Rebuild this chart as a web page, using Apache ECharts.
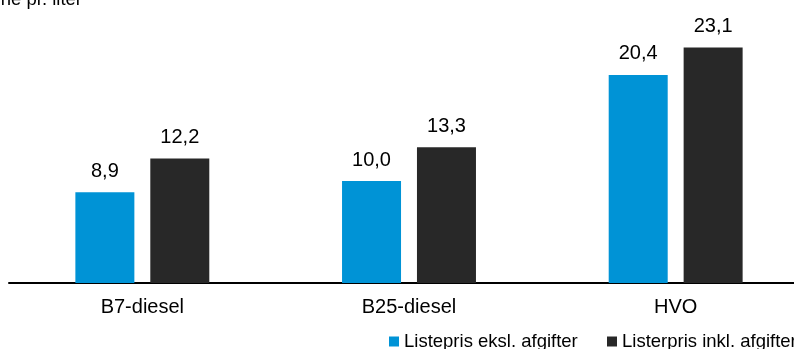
<!DOCTYPE html>
<html>
<head>
<meta charset="utf-8">
<script src="https://cdn.jsdelivr.net/npm/echarts@6/dist/echarts.min.js"></script>
<style>html,body{margin:0;padding:0;background:#fff;}#c{width:794px;height:349px;}</style>
</head>
<body>
<div id="c"></div>
<script>
const categories = ['B7-diesel', 'B25-diesel', 'HVO'];
const seriesNames = ['Listepris eksl. afgifter', 'Listerpris inkl. afgifter'];
const exclTax = [8.9, 10.0, 20.4];
const inclTax = [12.2, 13.3, 23.1];
const unitLabel = 'Krone pr. liter';

const FONT = '"Liberation Sans", Arial, sans-serif';
const chart = echarts.init(document.getElementById('c'), null, {renderer: 'canvas'});
const fmt = p => p.value.toFixed(1).replace('.', ',');
const labelCfg = {show: true, position: 'top', distance: 11, formatter: fmt, fontSize: 20, color: '#000', fontFamily: FONT};
const legendBase = {
  top: 332, padding: 0, itemWidth: 10, itemHeight: 10, itemGap: 5, icon: 'rect', orient: 'horizontal',
  textStyle: {fontSize: 18.5, color: '#000', fontFamily: FONT}
};
chart.setOption({
  animation: false,
  textStyle: {fontFamily: FONT},
  graphic: [{
    type: 'text', left: -28, top: -10,
    style: {text: unitLabel, fontSize: 18.5, fontFamily: FONT, fill: '#000'}
  }],
  legend: [
    Object.assign({}, legendBase, {data: [seriesNames[0]], left: 389}),
    Object.assign({}, legendBase, {data: [seriesNames[1]], left: 607})
  ],
  grid: {left: 9, width: 800, top: 28, bottom: 66, containLabel: false, outerBoundsMode: 'none'},
  xAxis: {
    type: 'category', data: categories,
    axisLine: {lineStyle: {color: '#000', width: 2}},
    axisTick: {show: false},
    axisLabel: {fontSize: 20, color: '#000', margin: 14, fontFamily: FONT}
  },
  yAxis: {type: 'value', min: 0, max: 25, show: false, splitLine: {show: false}},
  series: [
    {name: seriesNames[0], type: 'bar', data: exclTax, barWidth: 59, barGap: '27%', itemStyle: {color: '#0093d6'}, label: labelCfg},
    {name: seriesNames[1], type: 'bar', data: inclTax, barWidth: 59, itemStyle: {color: '#282828'}, label: labelCfg}
  ]
});
</script>
</body>
</html>
